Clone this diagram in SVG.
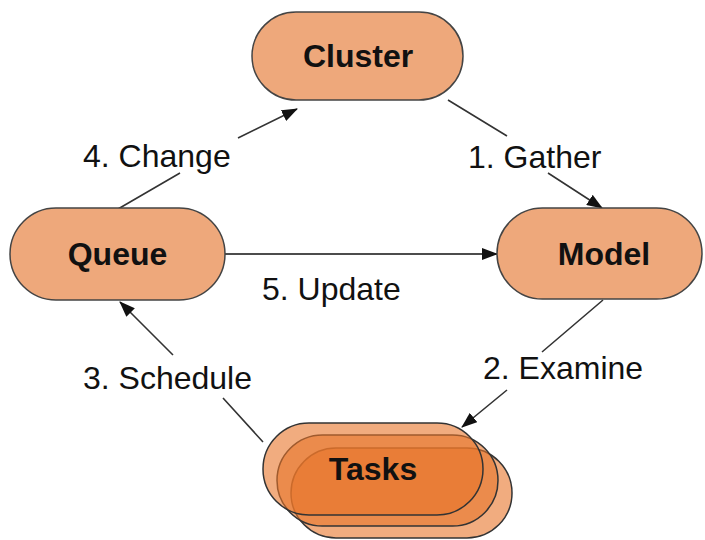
<svg xmlns="http://www.w3.org/2000/svg" width="705" height="540" viewBox="0 0 705 540">
  <defs>
    <marker id="arrow" markerUnits="userSpaceOnUse" markerWidth="16" markerHeight="12" refX="15" refY="6" orient="auto">
      <path d="M0,0 L16,6 L0,12 z" fill="#111"/>
    </marker>
    <style>
      .node { fill: #eea87b; stroke: #444; stroke-width: 1.5; }
      .task { fill: #e8742a; fill-opacity: 0.6; stroke: #333; stroke-width: 1.5; }
      .ntext { font-family: "Liberation Sans", Arial, sans-serif; font-weight: bold; font-size: 32px; fill: #111; text-anchor: middle; }
      .label { font-family: "Liberation Sans", Arial, sans-serif; font-size: 32px; fill: #111; }
      .conn { fill: none; stroke: #333; stroke-width: 1.6; marker-end: url(#arrow); }
    </style>
  </defs>
  <rect width="705" height="540" fill="#fff"/>

  <g id="connectors">
    <path class="conn" d="M118,209 L180,173 M238,138 L297,109"/>
    <path class="conn" d="M448,100 L507,136 M548,173 L602,208"/>
    <path class="conn" d="M225,254 L497,254" style="stroke:#111"/>
    <path class="conn" d="M603,300 L542,352 M507,390 L462,427"/>
    <path class="conn" d="M263,442 L223,398 M173,355 L120,302"/>
  </g>

  <g id="labels">
    <text class="label" x="83" y="167">4. Change</text>
    <text class="label" x="468" y="168">1. Gather</text>
    <text class="label" x="262" y="300">5. Update</text>
    <text class="label" x="83" y="389">3. Schedule</text>
    <text class="label" x="483" y="379">2. Examine</text>
  </g>

  <g id="cluster">
    <rect class="node" x="252" y="12" width="211" height="88" rx="44"/>
    <text class="ntext" x="358" y="67">Cluster</text>
  </g>

  <g id="queue">
    <rect class="node" x="10" y="208" width="215" height="92" rx="46"/>
    <text class="ntext" x="117.5" y="265">Queue</text>
  </g>

  <g id="model">
    <rect class="node" x="497" y="208" width="205" height="91" rx="45.5"/>
    <text class="ntext" x="604" y="265">Model</text>
  </g>

  <g id="tasks">
    <rect class="task" x="291" y="448" width="221" height="90" rx="45"/>
    <rect class="task" x="277" y="435" width="221" height="91" rx="45.5"/>
    <rect class="task" x="263" y="423" width="220" height="92" rx="46"/>
    <text class="ntext" x="373" y="480">Tasks</text>
  </g>
</svg>
